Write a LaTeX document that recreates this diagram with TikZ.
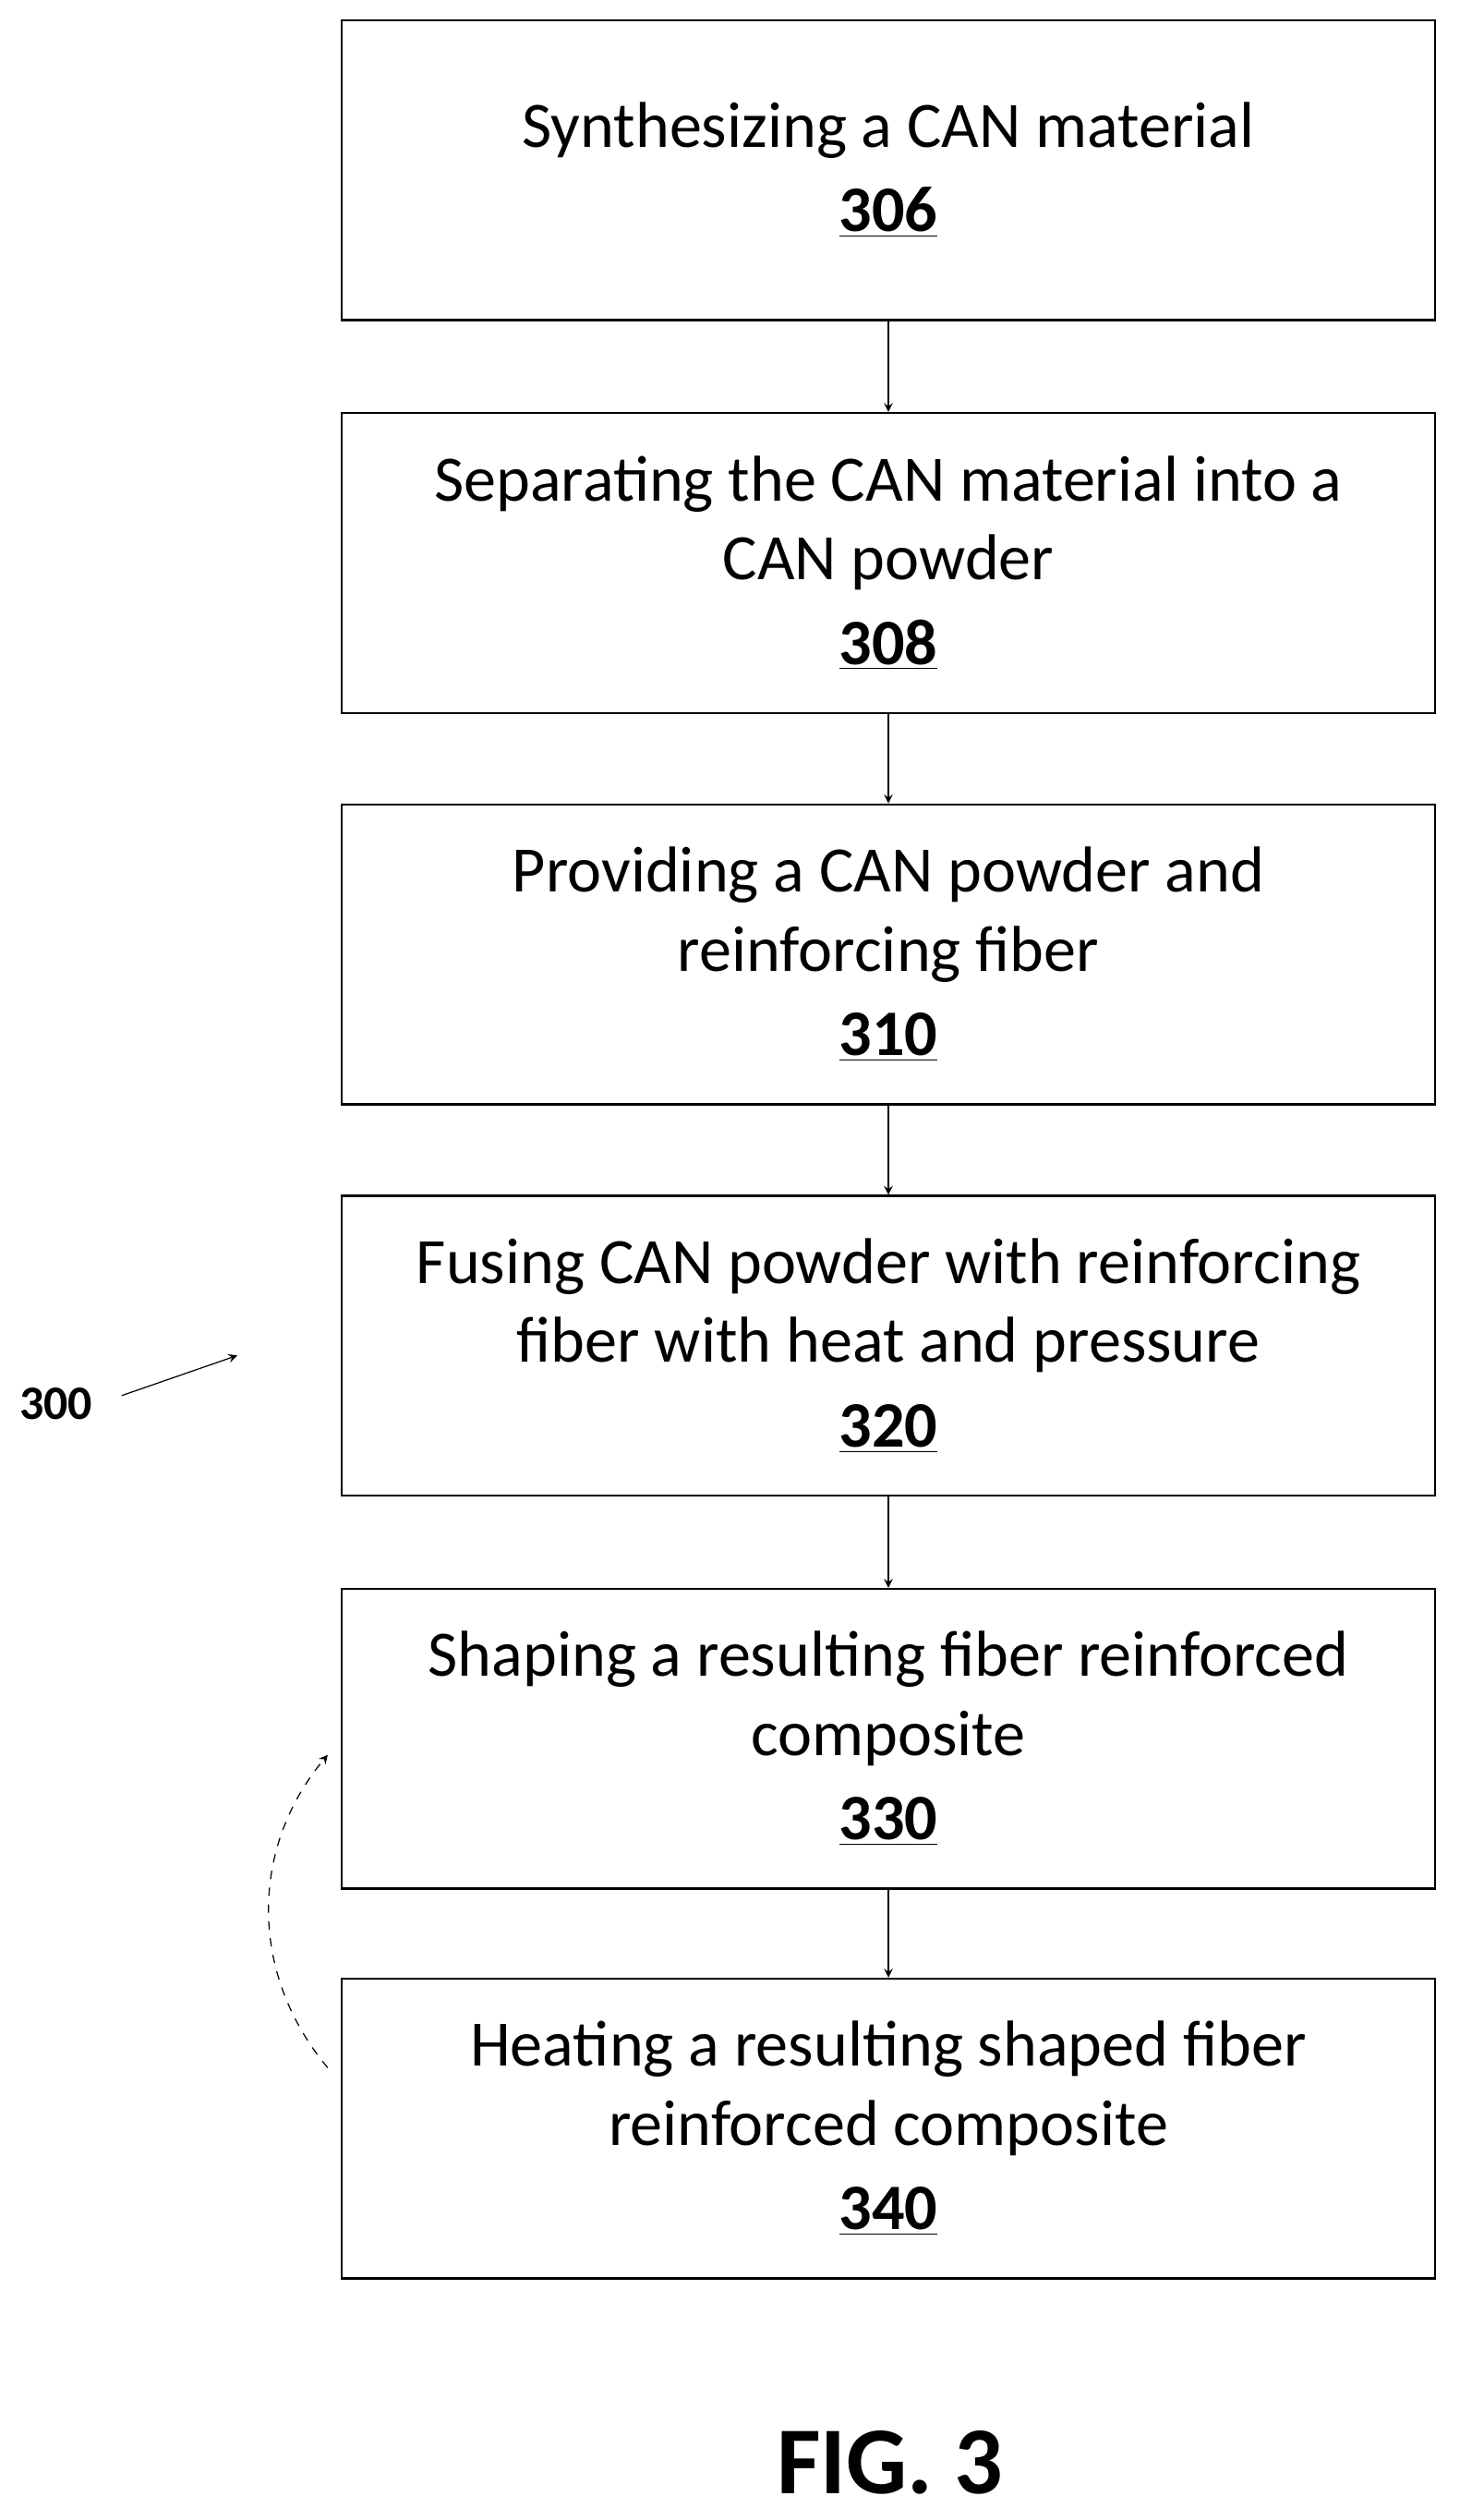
\documentclass[tikz,border=0pt]{standalone}
\usepackage{fontspec}
\setmainfont{Carlito}
\usetikzlibrary{calc,arrows,positioning}
\tikzset{stepbox/.style={draw, thick, rectangle, minimum width=13.64cm, minimum height=3.74cm, align=center, font=\fontsize{23}{28}\selectfont}, ->, >=stealth, thick}
\newcommand{\refnum}[1]{\textbf{\underline{#1}}}

\begin{document}
\begin{tikzpicture}[x=0.02cm,y=-0.02cm]
    \useasboundingbox (0,0) rectangle (910,1571);
    \node[stepbox] (S306) at (554,106) {Synthesizing a CAN material\\[2pt] \refnum{306}};
    \node[stepbox] (S308) at (554,351) {Separating the CAN material into a\\ CAN powder\\[2pt] \refnum{308}};
    \node[stepbox] (S310) at (554,595) {Providing a CAN powder and\\ reinforcing fiber\\[2pt] \refnum{310}};
    \node[stepbox] (S320) at (554,839) {Fusing CAN powder with reinforcing\\ fiber with heat and pressure\\[2pt] \refnum{320}};
    \node[stepbox] (S330) at (554,1084) {Shaping a resulting fiber reinforced\\ composite\\[2pt] \refnum{330}};
    \node[stepbox] (S340) at (554,1327) {Heating a resulting shaped fiber\\ reinforced composite\\[2pt] \refnum{340}};
    \draw (S306) -- (S308);
    \draw (S308) -- (S310);
    \draw (S310) -- (S320);
    \draw (S320) -- (S330);
    \draw (S330) -- (S340);
    \draw[dashed] ($(S340.west)+(-8,-38)$) to[bend left=40] ($(S330.west)+(-8,10)$);
    \node[font=\fontsize{17}{20}\selectfont\bfseries] (L300) at (35,875) {300};
    \coordinate (P300) at (148,845);
    \draw ($(L300.east)+(12,-5)$) -- (P300);
    \node[font=\fontsize{34}{40}\selectfont\bfseries] (FIG) at (555,1535) {FIG. 3};
\end{tikzpicture}
\end{document}
